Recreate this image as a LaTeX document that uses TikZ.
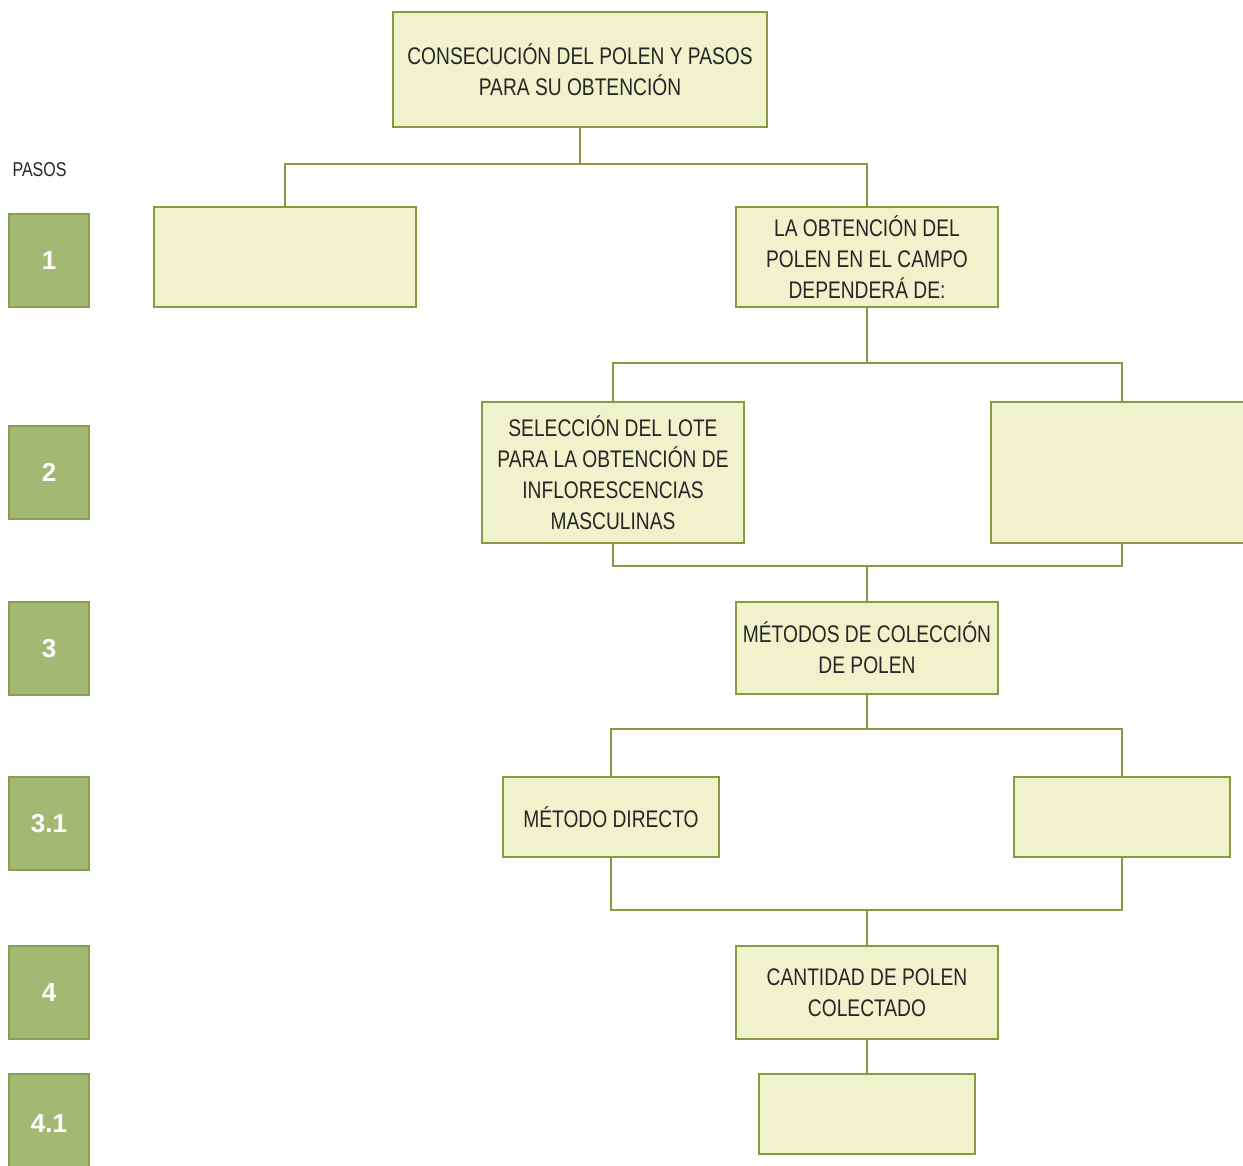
\documentclass[tikz,border=0pt]{standalone}
\usepackage{fontspec}
\setmainfont{Liberation Sans}
\newfontfamily\condfont[FakeStretch=0.80]{Liberation Sans}
\newfontfamily\numfont{Liberation Sans}
\definecolor{boxfill}{HTML}{F0F2CB}
\definecolor{boxline}{HTML}{879B3E}
\definecolor{stepfill}{HTML}{A3B873}
\definecolor{stepline}{HTML}{8AA04F}
\tikzset{
  x=1pt, y=-1pt,
  flowbox/.style={draw=boxline, fill=boxfill, line width=2pt, inner sep=0pt,
    align=center, font=\condfont\fontsize{24}{31}\selectfont, text=black!85},
  stepbox/.style={draw=stepline, fill=stepfill, line width=2pt, inner sep=0pt,
    minimum width=80pt, minimum height=93pt, text=white,
    font=\numfont\bfseries\fontsize{26}{30}\selectfont},
  link/.style={draw=boxline, line width=2pt}
}
\begin{document}
\begin{tikzpicture}
\clip (0,0) rectangle (1243,1166);
\useasboundingbox (0,0) rectangle (1243,1166);
\fill[white] (0,0) rectangle (1243,1166);

% step markers on the left
\node[font=\condfont\fontsize{20}{23}\selectfont, text=black!85, anchor=west] (pasos) at (9,170) {PASOS};
\node[stepbox] (s1)  at (49,260.5)  {1};
\node[stepbox] (s2)  at (49,472.5)  {2};
\node[stepbox] (s3)  at (49,648.5)  {3};
\node[stepbox] (s31) at (49,823.5)  {3.1};
\node[stepbox] (s4)  at (49,992.5)  {4};
\node[stepbox, minimum height=100pt] (s41) at (49,1124) {4.1};

% flow boxes
\node[flowbox, minimum width=374pt, minimum height=115pt] (top) at (580,69.5)
  {CONSECUCIÓN DEL POLEN Y PASOS\\PARA SU OBTENCIÓN};
\node[flowbox, minimum width=262pt, minimum height=100pt] (l1) at (285,257) {};
\node[flowbox, minimum width=262pt, minimum height=100pt] (r1) at (867,257)
  {LA OBTENCIÓN DEL\\POLEN EN EL CAMPO\\DEPENDERÁ DE:};
\node[flowbox, minimum width=262pt, minimum height=141pt] (l2) at (613,472.5)
  {SELECCIÓN DEL LOTE\\PARA LA OBTENCIÓN DE\\INFLORESCENCIAS\\MASCULINAS};
\node[flowbox, minimum width=262pt, minimum height=141pt] (r2) at (1122,472.5) {};
\node[flowbox, minimum width=262pt, minimum height=92pt] (b3) at (867,648)
  {MÉTODOS DE COLECCIÓN\\DE POLEN};
\node[flowbox, minimum width=216pt, minimum height=80pt] (m1) at (611,817)
  {MÉTODO DIRECTO};
\node[flowbox, minimum width=216pt, minimum height=80pt] (m2) at (1121.5,817) {};
\node[flowbox, minimum width=262pt, minimum height=93pt] (b4) at (867,992.5)
  {CANTIDAD DE POLEN\\COLECTADO};
\node[flowbox, minimum width=216pt, minimum height=80pt] (b41) at (867,1114) {};

% connectors
\coordinate (j0) at (top.south |- 0,164);
\draw[link] (top.south) -- (j0);
\draw[link] (l1.north) |- (j0) -| (r1.north);

\coordinate (j1) at (r1.south |- 0,363);
\draw[link] (r1.south) -- (j1);
\draw[link] (l2.north) |- (j1) -| (r2.north);

\coordinate (j2) at (b3.north |- 0,566);
\draw[link] (l2.south) |- (j2) -| (r2.south);
\draw[link] (j2) -- (b3.north);

\coordinate (j3) at (b3.south |- 0,729);
\draw[link] (b3.south) -- (j3);
\draw[link] (m1.north) |- (j3) -| (m2.north);

\coordinate (j4) at (b4.north |- 0,910);
\draw[link] (m1.south) |- (j4) -| (m2.south);
\draw[link] (j4) -- (b4.north);

\draw[link] (b4.south) -- (b41.north);
\end{tikzpicture}
\end{document}
